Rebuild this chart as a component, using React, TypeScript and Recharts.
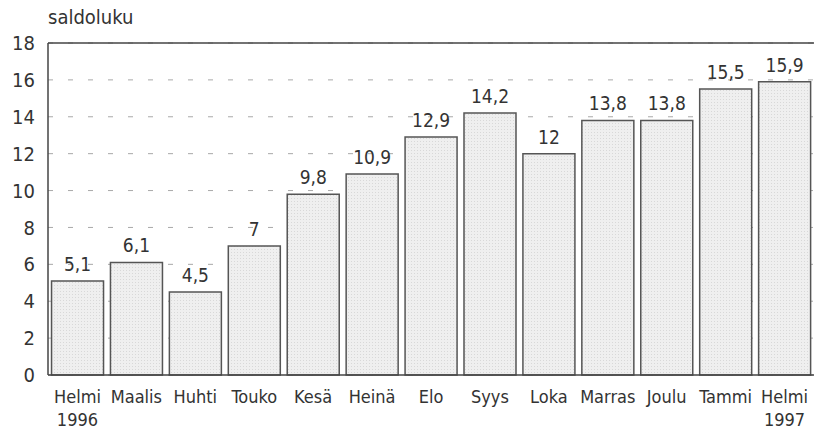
import { BarChart, Bar, XAxis, YAxis, CartesianGrid, LabelList, ReferenceLine } from 'recharts'

const months = ['Helmi', 'Maalis', 'Huhti', 'Touko', 'Kesä', 'Heinä', 'Elo', 'Syys', 'Loka', 'Marras', 'Joulu', 'Tammi', 'Helmi']
const years = ['1996', '', '', '', '', '', '', '', '', '', '', '', '1997']
const saldo = [5.1, 6.1, 4.5, 7, 9.8, 10.9, 12.9, 14.2, 12, 13.8, 13.8, 15.5, 15.9]
const yTicks = [0, 2, 4, 6, 8, 10, 12, 14, 16, 18]

const font = "'Liberation Sans Narrow', 'DejaVu Sans Condensed', 'Liberation Sans', sans-serif"
const ink = '#333'

const data = months.map((m, i) => ({ key: i, month: m, year: years[i], value: saldo[i] }))

function MonthTick({ x, y, payload }: any) {
  const d = data[payload.value]
  return (
    <g transform={`translate(${x},${y})`}>
      <text textAnchor="middle" y={20} fill={ink} fontSize={18} fontFamily={font}>{d.month}</text>
      {d.year && <text textAnchor="middle" y={43} fill={ink} fontSize={18} fontFamily={font}>{d.year}</text>}
    </g>
  )
}

export default function App() {
  return (
    <div style={{ position: 'absolute', left: 0, top: 0, width: 814, height: 436, background: '#fff' }}>
      <div style={{ position: 'absolute', left: 48, top: 5, fontFamily: font, fontSize: 20, color: ink }}>saldoluku</div>
      <BarChart width={814} height={436} data={data} margin={{ top: 43, right: 0, left: 0, bottom: 0 }} barCategoryGap="6%">
        <defs>
          <pattern id="dots" width="3" height="3" patternUnits="userSpaceOnUse">
            <rect width="3" height="3" fill="#efefef" />
            <rect width="1" height="1" fill="#d8d8d8" />
          </pattern>
        </defs>
        <CartesianGrid vertical={false} stroke="#a8a8a8" strokeDasharray="5 15" />
        <XAxis dataKey="key" tick={<MonthTick />} tickLine={false} axisLine={{ stroke: '#444', strokeWidth: 1.5 }} height={61} interval={0} />
        <YAxis domain={[0, 18]} ticks={yTicks} width={48} tickLine={false} axisLine={{ stroke: '#444', strokeWidth: 1.5 }}
          tick={{ fill: ink, fontSize: 20, fontFamily: font }} tickMargin={7} />
        <ReferenceLine y={18} stroke="#444" strokeWidth={1.5} />
        <Bar dataKey="value" fill="url(#dots)" stroke="#555" strokeWidth={1.5} isAnimationActive={false}>
          <LabelList dataKey="value" position="top" offset={10} fill={ink} fontSize={19} fontFamily={font}
            formatter={(v: any) => String(v).replace('.', ',')} />
        </Bar>
      </BarChart>
    </div>
  )
}
